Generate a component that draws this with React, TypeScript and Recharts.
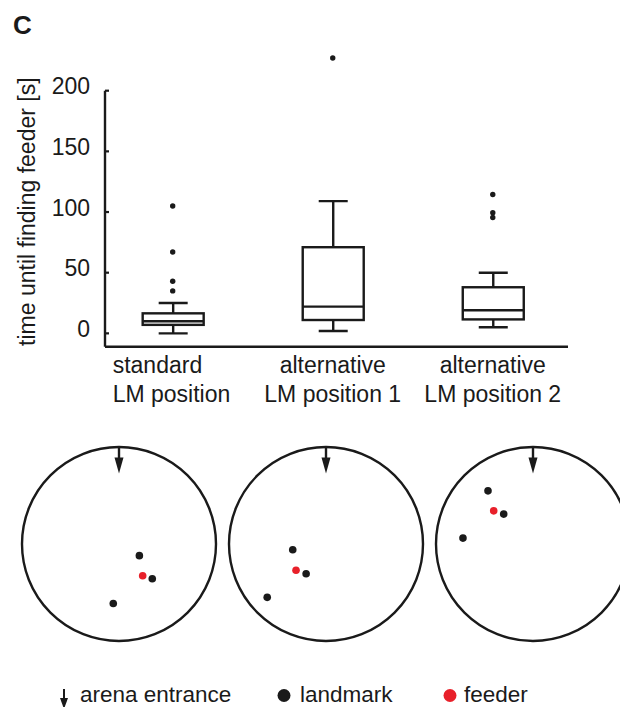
import React from 'react';
import { ComposedChart, Bar, Scatter, XAxis, YAxis, ScatterChart, ReferenceDot, ReferenceLine } from 'recharts';

const INK = '#1a1a1a';
const RED = '#e8202a';
const FONT = '"Liberation Sans", Arial, Helvetica, sans-serif';

// box plot data
const categories = [
  ['standard', 'LM position'],
  ['alternative', 'LM position 1'],
  ['alternative', 'LM position 2'],
];
const positions = [1, 2, 3];
const whiskerLow = [0, 2, 5];
const quartile1 = [7, 11, 11.5];
const medians = [10, 22, 19];
const quartile3 = [16.5, 71, 38];
const whiskerHigh = [25, 109, 50];
const outliers = [[35, 43, 67, 105], [227], [95.5, 99.5, 114.5]];
const yTicks = [0, 50, 100, 150, 200];
const xDomain = [0.577, 3.47];
const yDomain = [-11, 230];

// arena sketches (arena radius = 1, entrance at top)
const landmarks = [
  [{ x: 0.21, y: -0.12 }, { x: 0.343, y: -0.359 }, { x: -0.059, y: -0.613 }],
  [{ x: -0.343, y: -0.06 }, { x: -0.205, y: -0.306 }, { x: -0.606, y: -0.55 }],
  [{ x: -0.464, y: 0.548 }, { x: -0.302, y: 0.308 }, { x: -0.722, y: 0.061 }],
];
const feeders = [
  [{ x: 0.244, y: -0.328 }],
  [{ x: -0.309, y: -0.27 }],
  [{ x: -0.405, y: 0.342 }],
];
const arenaLeft = [19, 226, 433];

const boxRows = positions.map((pos, i) => ({
  pos,
  box: [quartile1[i], quartile3[i]],
  lo: whiskerLow[i],
  med: medians[i],
  hi: whiskerHigh[i],
}));
const outlierRows = outliers.flatMap((vals, i) => vals.map((v) => ({ pos: positions[i], v })));

function BoxShape(props: any) {
  const { x, y, width, height, payload } = props;
  const [q1, q3] = payload.box;
  const top = Math.min(y, y + height);
  const h = Math.abs(height);
  const ppu = h / (q3 - q1);
  const toY = (v: number) => top + (q3 - v) * ppu;
  const cx = x + width / 2;
  const cap = 14.5;
  return (
    <g stroke={INK} strokeWidth={2.4} fill="none">
      <line x1={cx} x2={cx} y1={toY(payload.hi)} y2={top} />
      <line x1={cx - cap} x2={cx + cap} y1={toY(payload.hi)} y2={toY(payload.hi)} />
      <line x1={cx} x2={cx} y1={top + h} y2={toY(payload.lo)} />
      <line x1={cx - cap} x2={cx + cap} y1={toY(payload.lo)} y2={toY(payload.lo)} />
      <rect x={x} y={top} width={width} height={h} />
      <line x1={x} x2={x + width} y1={toY(payload.med)} y2={toY(payload.med)} />
    </g>
  );
}

function OutlierDot(props: any) {
  const { cx, cy } = props;
  return <circle cx={cx} cy={cy} r={2.7} fill={INK} />;
}

function CategoryTick(props: any) {
  const { x, y, payload } = props;
  const i = positions.indexOf(payload.value);
  if (i < 0) return null;
  const left = i === 0;
  const tx = left ? x - 60 : x;
  return (
    <text x={tx} y={y} textAnchor={left ? 'start' : 'middle'} fontSize={23} fill={INK} fontFamily={FONT}>
      <tspan x={tx} dy={26.6}>{categories[i][0]}</tspan>
      <tspan x={tx} dy={29}>{categories[i][1]}</tspan>
    </text>
  );
}

function ValueTick(props: any) {
  const { x, y, payload } = props;
  return (
    <text x={x} y={y} dy={3.5} textAnchor="end" fontSize={23} fill={INK} fontFamily={FONT}>
      {payload.value}
    </text>
  );
}

function YTitle(props: any) {
  const vb = props.viewBox || { x: 0, y: 54, width: 105, height: 292 };
  const cx = vb.x + 35;
  const cy = vb.y + vb.height - 135;
  return (
    <text
      x={cx}
      y={cy}
      transform={`rotate(-90 ${cx} ${cy})`}
      textAnchor="middle"
      fontSize={23}
      fill={INK}
      fontFamily={FONT}
    >
      time until finding feeder [s]
    </text>
  );
}

function EntranceArrow(props: any) {
  const { cx, cy } = props;
  return (
    <g>
      <line x1={cx} x2={cx} y1={cy} y2={cy + 14} stroke={INK} strokeWidth={2.4} />
      <path d={`M${cx - 4.5},${cy + 10.5} L${cx + 4.5},${cy + 10.5} L${cx},${cy + 26.5} Z`} fill={INK} />
    </g>
  );
}

function SmallDot(color: string) {
  return (props: any) => <circle cx={props.cx} cy={props.cy} r={3.8} fill={color} />;
}

function Arena({ index }: { index: number }) {
  return (
    <ScatterChart width={200} height={200} margin={{ top: 3, right: 3, bottom: 3, left: 3 }}>
      <XAxis type="number" dataKey="x" domain={[-1, 1]} hide />
      <YAxis type="number" dataKey="y" domain={[-1, 1]} hide />
      <ReferenceDot x={0} y={0} r={97} fill="none" stroke={INK} strokeWidth={2.4} />
      <ReferenceDot x={0} y={1} shape={EntranceArrow} />
      <Scatter data={landmarks[index]} shape={SmallDot(INK)} isAnimationActive={false} />
      <Scatter data={feeders[index]} shape={SmallDot(RED)} isAnimationActive={false} />
    </ScatterChart>
  );
}

export default function App() {
  return (
    <div
      style={{
        position: 'absolute',
        left: 0,
        top: 0,
        width: 620,
        height: 707,
        overflow: 'hidden',
        background: '#fff',
        fontFamily: FONT,
      }}
    >
      <svg width={620} height={707} style={{ position: 'absolute', left: 0, top: 0 }}>
        <text x={13} y={34} fontSize={26} fontWeight="bold" fill={INK} fontFamily={FONT}>
          C
        </text>
        {/* legend */}
        <line x1={64} x2={64} y1={689} y2={701} stroke={INK} strokeWidth={2} />
        <path d="M60,698 L68,698 L64,709 Z" fill={INK} />
        <text x={80} y={702} fontSize={22.5} fill={INK} fontFamily={FONT}>
          arena entrance
        </text>
        <circle cx={284} cy={695.5} r={6.5} fill={INK} />
        <text x={300} y={702} fontSize={22.5} fill={INK} fontFamily={FONT}>
          landmark
        </text>
        <circle cx={450} cy={695.5} r={6.5} fill={RED} />
        <text x={464} y={702} fontSize={22.5} fill={INK} fontFamily={FONT}>
          feeder
        </text>
      </svg>

      <div style={{ position: 'absolute', left: 0, top: 0 }}>
        <ComposedChart
          width={620}
          height={420}
          data={boxRows}
          margin={{ top: 54.3, right: 52, bottom: 3.3, left: 0 }}
        >
          <XAxis
            type="number"
            dataKey="pos"
            domain={xDomain}
            ticks={positions}
            allowDataOverflow
            height={70}
            tickSize={0}
            tickMargin={0}
            tickLine={false}
            axisLine={{ stroke: INK, strokeWidth: 2.4 }}
            tick={<CategoryTick />}
          />
          <YAxis
            type="number"
            domain={yDomain}
            ticks={yTicks}
            allowDataOverflow
            width={105}
            tickSize={-4}
            tickMargin={19}
            tickLine={{ stroke: INK, strokeWidth: 2.2 }}
            axisLine={false}
            tick={<ValueTick />}
            label={<YTitle />}
          />
          <ReferenceLine
            segment={[
              { x: xDomain[0], y: yDomain[0] },
              { x: xDomain[0], y: yTicks[yTicks.length - 1] },
            ]}
            stroke={INK}
            strokeWidth={2.4}
            ifOverflow="visible"
          />
          <Bar dataKey="box" barSize={61} shape={<BoxShape />} isAnimationActive={false} />
          <Scatter data={outlierRows} dataKey="v" shape={<OutlierDot />} isAnimationActive={false} />
        </ComposedChart>
      </div>

      {arenaLeft.map((left, i) => (
        <div key={i} style={{ position: 'absolute', left, top: 444 }}>
          <Arena index={i} />
        </div>
      ))}
    </div>
  );
}
